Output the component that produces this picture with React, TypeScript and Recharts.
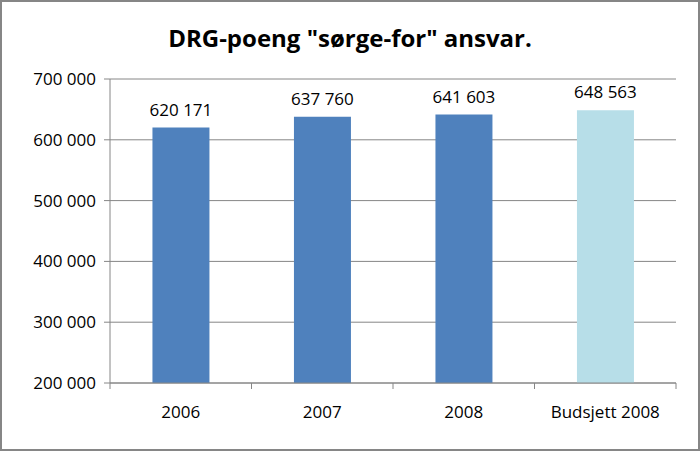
import React from 'react';
import { BarChart, Bar, XAxis, YAxis, CartesianGrid, LabelList, Cell } from 'recharts';

const categories = ['2006', '2007', '2008', 'Budsjett 2008'];
const points = [620171, 637760, 641603, 648563];
const barColors = ['#4F81BD', '#4F81BD', '#4F81BD', '#B7DEE8'];
const yTicks = [200000, 300000, 400000, 500000, 600000, 700000];

const data = categories.map((name, i) => ({ name, points: points[i] }));

// thousands separated by a non-breaking space so labels never wrap
const fmt = (v: number) => v.toLocaleString('en-US').replace(/,/g, '\u00A0');

const FONT = '"Open Sans", "Liberation Sans", sans-serif';

const CategoryTick = (props: any) => {
  const { x, y, payload, index, visibleTicksCount } = props;
  const step = 566 / categories.length;
  const axisY = y - 8;
  return (
    <g>
      <line x1={x - step / 2} x2={x - step / 2} y1={axisY} y2={axisY + 6} stroke="#868686" />
      {index === visibleTicksCount - 1 && (
        <line x1={x + step / 2} x2={x + step / 2} y1={axisY} y2={axisY + 6} stroke="#868686" />
      )}
      <text x={x} y={axisY + 35} textAnchor="middle" fontSize={17} fill="#000" fontFamily={FONT}>
        {payload.value}
      </text>
    </g>
  );
};

export default function App() {
  return (
    <div style={{ position: 'absolute', left: 0, top: 0, width: 700, height: 451, background: '#fff' }}>
      <div
        style={{
          position: 'absolute', left: 0, top: 0, width: 696, height: 447,
          border: '2px solid #868686', pointerEvents: 'none',
        }}
      />
      <div
        style={{
          position: 'absolute', left: 0, top: 21, width: 700, textAlign: 'center',
          fontFamily: FONT, fontWeight: 700, fontSize: 24, color: '#000',
        }}
      >
        DRG-poeng "sørge-for" ansvar.
      </div>
      <BarChart
        width={700}
        height={451}
        data={data}
        margin={{ top: 79, right: 24, left: 0, bottom: 0 }}
        barCategoryGap="30%"
      >
        <CartesianGrid vertical={false} stroke="#868686" />
        <XAxis
          dataKey="name"
          height={68}
          stroke="#868686"
          tickLine={false}
          tick={<CategoryTick />}
          interval={0}
        />
        <YAxis
          width={110}
          domain={[200000, 700000]}
          ticks={yTicks}
          allowDataOverflow
          stroke="#868686"
          tickSize={6}
          tickMargin={8}
          tickFormatter={fmt}
          tick={{ fill: '#000', fontSize: 17, fontFamily: FONT }}
        />
        <Bar dataKey="points" isAnimationActive={false}>
          {data.map((d, i) => (
            <Cell key={d.name} fill={barColors[i]} />
          ))}
          <LabelList
            dataKey="points"
            position="top"
            offset={12}
            formatter={(v: any) => fmt(Number(v))}
            style={{ fill: '#000', fontSize: 17, fontFamily: FONT }}
          />
        </Bar>
      </BarChart>
    </div>
  );
}
